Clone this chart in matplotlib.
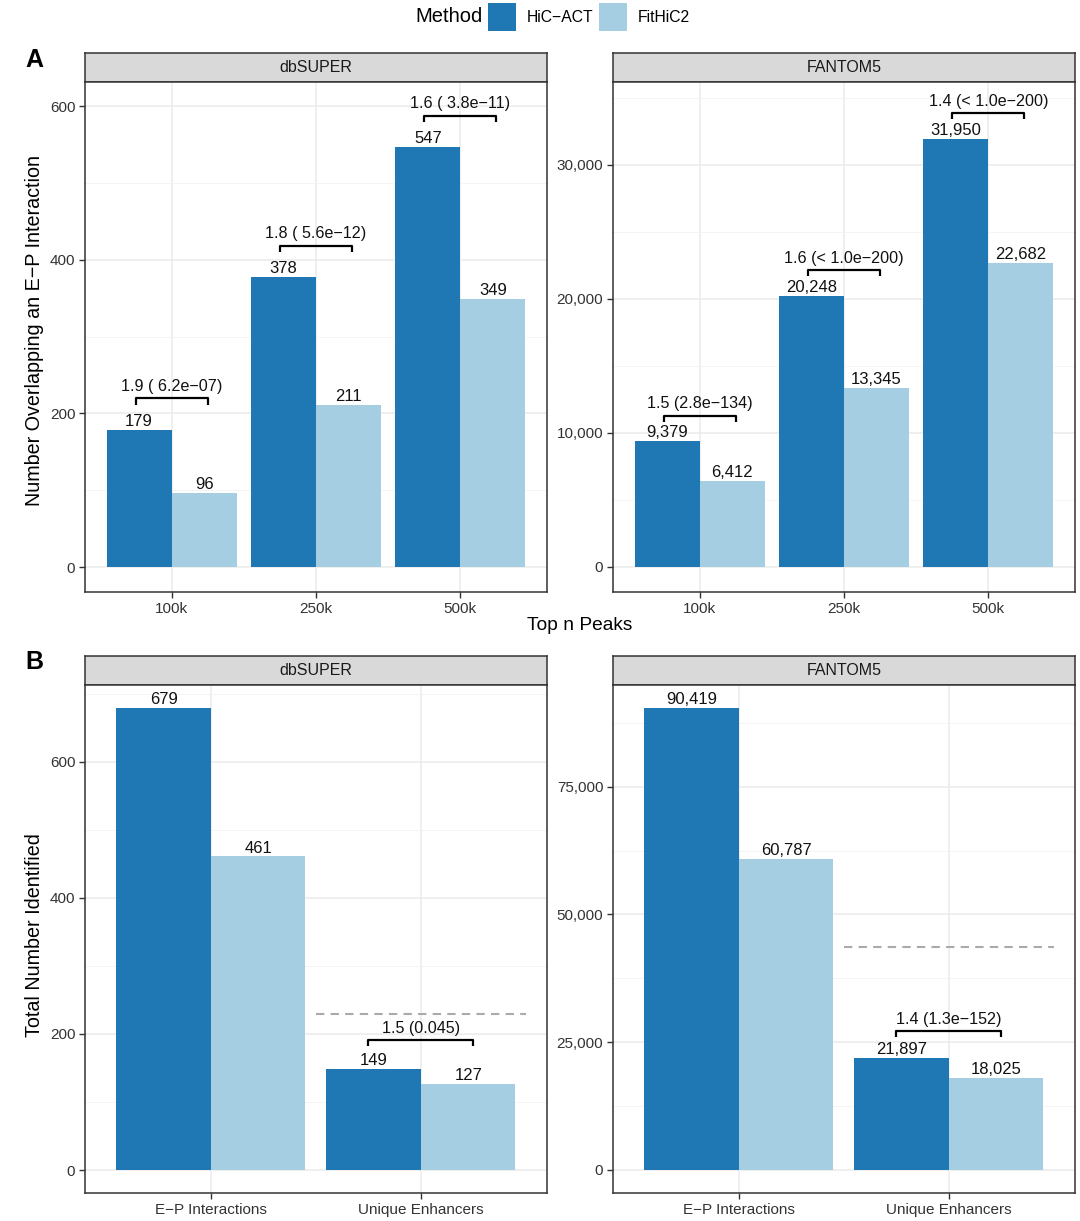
import numpy as np
import matplotlib
matplotlib.use("Agg")
import matplotlib.pyplot as plt
from matplotlib.patches import Rectangle
from matplotlib.ticker import FuncFormatter, MultipleLocator

plt.rcParams['font.family'] = ['Liberation Sans', 'DejaVu Sans']

# ---------------- data ----------------
methods = ["HiC\u2212ACT", "FitHiC2"]
colors = ["#1F78B4", "#A6CEE3"]

peaks = ["100k", "250k", "500k"]
a_db_hic = [179, 378, 547]
a_db_fit = [96, 211, 349]
a_db_test = ["1.9 ( 6.2e\u221207)", "1.8 ( 5.6e\u221212)", "1.6 ( 3.8e\u221211)"]
a_f5_hic = [9379, 20248, 31950]
a_f5_fit = [6412, 13345, 22682]
a_f5_test = ["1.5 (2.8e\u2212134)", "1.6 (< 1.0e\u2212200)", "1.4 (< 1.0e\u2212200)"]

b_cats = ["E\u2212P Interactions", "Unique Enhancers"]
b_db_hic = [679, 149]
b_db_fit = [461, 127]
b_db_test = [None, "1.5 (0.045)"]
b_db_ref = 229
b_f5_hic = [90419, 21897]
b_f5_fit = [60787, 18025]
b_f5_test = [None, "1.4 (1.3e\u2212152)"]
b_f5_ref = 43700

W, H = 1080, 1221
fig = plt.figure(figsize=(W / 100, H / 100), dpi=100)
fig.patch.set_facecolor("white")


def ax_px(x0, y0, x1, y1):
    return fig.add_axes([x0 / W, 1 - y1 / H, (x1 - x0) / W, (y1 - y0) / H])


def strip(x0, y0, x1, y1, label):
    s = ax_px(x0, y0, x1, y1)
    s.set_facecolor("#D9D9D9")
    s.set_xticks([])
    s.set_yticks([])
    for sp in s.spines.values():
        sp.set_color("#333333")
        sp.set_linewidth(1.1)
    s.text(0.5, 0.5, label, ha="center", va="center", fontsize=11.5, color="#1A1A1A",
           transform=s.transAxes)


def panel(box, label, cats, hic, fit, tests, ylim, major, comma, off_frac, ref=None):
    x0, y0, x1, y1 = box
    strip(x0, y0 - 29, x1, y0, label)
    ax = ax_px(x0, y0, x1, y1)
    n = len(cats)
    x = np.arange(1, n + 1)
    ax.set_xlim(0.4, n + 0.6)
    ax.set_ylim(*ylim)
    ax.set_axisbelow(True)
    ax.yaxis.set_major_locator(MultipleLocator(major))
    ax.yaxis.set_minor_locator(MultipleLocator(major / 2))
    ax.grid(True, which="major", color="#EBEBEB", lw=1.1)
    ax.grid(True, which="minor", axis="y", color="#F2F2F2", lw=0.6)
    ax.set_xticks(x)
    ax.set_xticklabels(cats)
    if comma:
        ax.yaxis.set_major_formatter(FuncFormatter(lambda v, p: f"{int(v):,}"))
    ax.tick_params(which="major", length=4, width=1.0, color="#333333",
                   labelsize=11, labelcolor="#333333", pad=3)
    ax.tick_params(which="minor", length=0)
    for sp in ax.spines.values():
        sp.set_color("#333333")
        sp.set_linewidth(1.1)

    ax.bar(x - 0.225, hic, width=0.45, color=colors[0])
    ax.bar(x + 0.225, fit, width=0.45, color=colors[1])
    for xi, h, f in zip(x, hic, fit):
        ax.annotate(f"{h:,}", (xi - 0.225, h), xytext=(0, 6), textcoords="offset points",
                    ha="center", va="center", fontsize=12, color="#111111")
        ax.annotate(f"{f:,}", (xi + 0.225, f), xytext=(0, 6), textcoords="offset points",
                    ha="center", va="center", fontsize=12, color="#111111")

    rng = ylim[1] - ylim[0]
    for xi, h, f, t in zip(x, hic, fit, tests):
        if t is None:
            continue
        yb = max(h, f) + off_frac * max(hic)
        d = 0.012 * rng
        ax.plot([xi - 0.25, xi - 0.25, xi + 0.25, xi + 0.25], [yb - d, yb, yb, yb - d],
                color="black", lw=1.6, solid_capstyle="butt")
        ax.annotate(t, (xi, yb), xytext=(0, 8.5), textcoords="offset points",
                    ha="center", va="center", fontsize=11.6, color="#111111")

    if ref is not None:
        ax.plot([1.5, 2.5], [ref, ref], color="#AAAAAA", lw=1.5, ls=(0, (4, 3)))
    return ax


panel((85, 82, 547, 592), "dbSUPER", peaks, a_db_hic, a_db_fit, a_db_test,
      (-32.5, 631.3), 200, False, 0.074)
panel((613, 82, 1075, 592), "FANTOM5", peaks, a_f5_hic, a_f5_fit, a_f5_test,
      (-1865, 36175), 10000, True, 0.06)
panel((85, 685, 547, 1193), "dbSUPER", b_cats, b_db_hic, b_db_fit, b_db_test,
      (-33.8, 713), 200, False, 0.062, ref=b_db_ref)
panel((613, 685, 1075, 1193), "FANTOM5", b_cats, b_f5_hic, b_f5_fit, b_f5_test,
      (-4500, 94890), 25000, True, 0.058, ref=b_f5_ref)

# axis titles
fig.text(580 / W, 1 - 625 / H, "Top n Peaks", ha="center", va="center", fontsize=13.8)
fig.text(35 / W, 1 - 330 / H, "Number Overlapping an E\u2212P Interaction", ha="center",
         va="center", rotation=90, fontsize=14.2)
fig.text(35 / W, 1 - 935 / H, "Total Number Identified", ha="center",
         va="center", rotation=90, fontsize=14.2)

# panel tags
fig.text(25 / W, 1 - 60 / H, "A", ha="left", va="center", fontsize=18, fontweight="bold")
fig.text(25 / W, 1 - 662 / H, "B", ha="left", va="center", fontsize=18, fontweight="bold")

# legend
fig.text(415 / W, 1 - 17 / H, "Method", ha="left", va="center", fontsize=14.5)
for i, (m, c) in enumerate(zip(methods, colors)):
    lx = 488 + i * 111
    fig.patches.append(Rectangle((lx / W, 1 - 31 / H), 28 / W, 28 / H, facecolor=c,
                                 edgecolor="none", transform=fig.transFigure, figure=fig))
    fig.text((lx + 39) / W, 1 - 17 / H, m, ha="left", va="center", fontsize=11.3)

fig.savefig("out.png", dpi=100)
